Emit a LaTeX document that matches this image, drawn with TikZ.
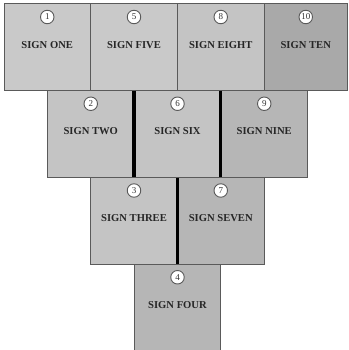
\documentclass[tikz,border=0pt]{standalone}
\usepackage{fontspec}
\setmainfont{Liberation Serif}
\definecolor{gA}{HTML}{C9C9C9}
\definecolor{gB}{HTML}{C4C4C4}
\definecolor{gC}{HTML}{B6B6B6}
\definecolor{gD}{HTML}{A9A9A9}
\definecolor{edge}{HTML}{5A5A5A}
\tikzset{
  signbox/.style={draw=edge, line width=1pt, minimum width=86.5pt, minimum height=86.5pt, inner sep=0pt, outer sep=0pt, anchor=north west},
  signtitle/.style={font=\bfseries\fontsize{10.6}{12}\selectfont, text=black!85, inner sep=0pt},
  numcirc/.style={circle, draw=edge, fill=white, line width=0.9pt, minimum size=13.5pt, inner sep=0pt, font=\fontsize{9}{10}\selectfont, text=black!80},
  divider/.style={line width=3.2pt, draw=black}
}
\begin{document}
\begin{tikzpicture}[x=1pt,y=-1pt]
\useasboundingbox (0,0) rectangle (348,350);
% row 1
\node[signbox, fill=gA] (b1) at (4,4) {};
\node[signbox, fill=gA] (b5) at (90.75,4) {};
\node[signbox, fill=gB] (b8) at (177.5,4) {};
\node[signbox, fill=gD, minimum width=83pt] (b10) at (264.25,4) {};
% row 2
\node[signbox, fill=gB] (b2) at (47.5,90.75) {};
\node[signbox, fill=gB] (b6) at (134.25,90.75) {};
\node[signbox, fill=gC] (b9) at (221,90.75) {};
% row 3
\node[signbox, fill=gB] (b3) at (90.75,177.5) {};
\node[signbox, fill=gC] (b7) at (177.5,177.5) {};
% row 4
\node[signbox, fill=gC, minimum height=86pt] (b4) at (134.25,264.25) {};
% dividers
\draw[divider] (b2.north east) -- (b2.south east);
\draw[divider] (b6.north east) -- (b6.south east);
\draw[divider] (b3.north east) -- (b3.south east);
% titles
\foreach \b/\t in {b1/SIGN ONE, b5/SIGN FIVE, b8/SIGN EIGHT, b10/SIGN TEN, b2/SIGN TWO, b6/SIGN SIX, b9/SIGN NINE, b3/SIGN THREE, b7/SIGN SEVEN, b4/SIGN FOUR}
  \node[signtitle] (t\b) at ([yshift=2.5pt]\b.center) {\t};
% numbers
\foreach \b/\n in {b1/1, b5/5, b8/8, b10/10, b2/2, b6/6, b9/9, b3/3, b7/7, b4/4}
  \node[numcirc] (n\b) at ([yshift=-13pt]\b.north) {\n};
\end{tikzpicture}
\end{document}
